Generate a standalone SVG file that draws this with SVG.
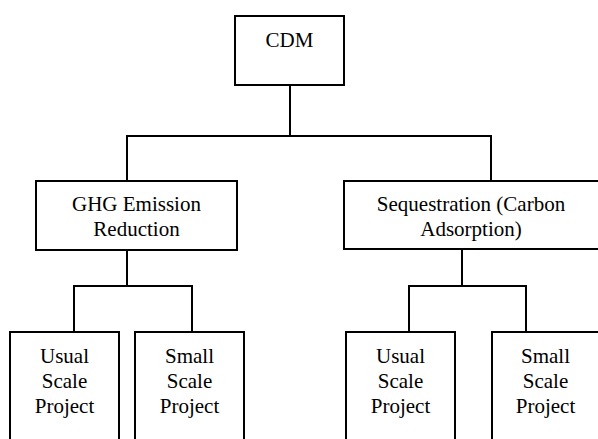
<svg xmlns="http://www.w3.org/2000/svg" width="598" height="439" viewBox="0 0 598 439">
<style>
.box{fill:#fff;stroke:#000;stroke-width:2}
.ln{fill:none;stroke:#000;stroke-width:2}
.t{font-family:'Liberation Serif','Times New Roman',serif;font-size:21px;fill:#000;text-anchor:middle}
</style>
<rect width="598" height="439" fill="#fff"/>
<g id="connectors">
<polyline class="ln" points="290,85 290,136"/>
<polyline class="ln" points="127,181 127,136 491,136 491,181"/>
<polyline class="ln" points="127,250 127,286"/>
<polyline class="ln" points="74,332 74,286 192,286 192,332"/>
<polyline class="ln" points="462,249 462,286"/>
<polyline class="ln" points="409,332 409,286 526,286 526,332"/>
</g>
<g id="cdm">
<rect class="box" x="235" y="16" width="109" height="69"/>
<text class="t" x="289.5" y="47">CDM</text>
</g>
<g id="ghg">
<rect class="box" x="36" y="181" width="201" height="69"/>
<text class="t" x="136.5" y="211">GHG Emission</text>
<text class="t" x="136.5" y="236">Reduction</text>
</g>
<g id="seq">
<rect class="box" x="344" y="181" width="260" height="68"/>
<text class="t" x="471" y="211">Sequestration (Carbon</text>
<text class="t" x="471" y="236">Adsorption)</text>
</g>
<g id="ghg-usual">
<rect class="box" x="10" y="332" width="109" height="120"/>
<text class="t" x="64.5" y="363">Usual</text>
<text class="t" x="64.5" y="388">Scale</text>
<text class="t" x="64.5" y="413">Project</text>
</g>
<g id="ghg-small">
<rect class="box" x="135" y="332" width="109" height="120"/>
<text class="t" x="189.5" y="363">Small</text>
<text class="t" x="189.5" y="388">Scale</text>
<text class="t" x="189.5" y="413">Project</text>
</g>
<g id="seq-usual">
<rect class="box" x="346" y="332" width="109" height="120"/>
<text class="t" x="400.5" y="363">Usual</text>
<text class="t" x="400.5" y="388">Scale</text>
<text class="t" x="400.5" y="413">Project</text>
</g>
<g id="seq-small">
<rect class="box" x="492" y="332" width="112" height="120"/>
<text class="t" x="545.5" y="363">Small</text>
<text class="t" x="545.5" y="388">Scale</text>
<text class="t" x="545.5" y="413">Project</text>
</g>
</svg>
